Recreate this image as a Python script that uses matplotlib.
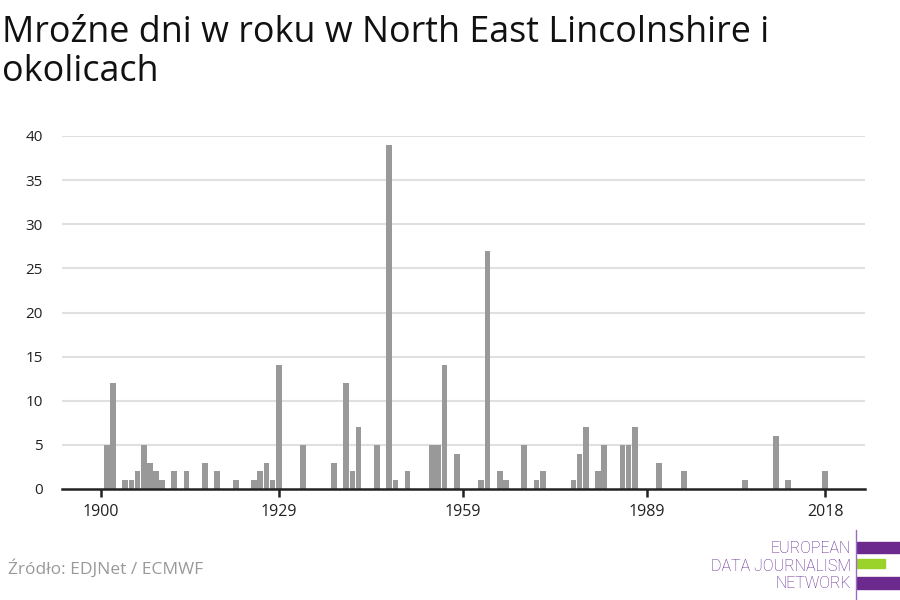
import matplotlib.pyplot as plt
from matplotlib.patches import Rectangle

plt.rcParams['font.family'] = ['Open Sans', 'DejaVu Sans']

# frost days per year (years without frost days are left out = 0)
years = [1901, 1902, 1904, 1905, 1906, 1907, 1908, 1909, 1910, 1912, 1914, 1917, 1919,
         1922, 1925, 1926, 1927, 1928, 1929, 1933, 1938, 1940, 1941, 1942, 1945, 1947,
         1948, 1950, 1954, 1955, 1956, 1958, 1962, 1963, 1965, 1966, 1969, 1971, 1972,
         1977, 1978, 1979, 1981, 1982, 1985, 1986, 1987, 1991, 1995, 2005, 2010, 2012, 2018]
frost_days = [5, 12, 1, 1, 2, 5, 3, 2, 1, 2, 2, 3, 2,
              1, 1, 2, 3, 1, 14, 5, 3, 12, 2, 7, 5, 39,
              1, 2, 5, 5, 14, 4, 1, 27, 2, 1, 5, 1, 2,
              1, 4, 7, 2, 5, 5, 5, 7, 3, 2, 1, 6, 1, 2]
xticks = [1900, 1929, 1959, 1989, 2018]
yticks = [0, 5, 10, 15, 20, 25, 30, 35, 40]

fig = plt.figure(figsize=(9, 6), dpi=100)
ax = fig.add_axes([62 / 900, 1 - 489 / 600, 803 / 900, 353 / 600])

ax.bar(years, frost_days, width=0.93, color='#999999', zorder=2)

ax.set_xlim(1893.7, 2024.5)
ax.set_ylim(0, 40)
ax.set_yticks(yticks)
ax.set_xticks(xticks)
ax.set_xticklabels([str(y) for y in xticks])
for y in yticks[1:]:
    ax.axhline(y, color='#e0e0e0', lw=1.5, zorder=1)

for s in ['top', 'right', 'left']:
    ax.spines[s].set_visible(False)
ax.spines['bottom'].set_linewidth(1.8)
ax.spines['bottom'].set_color('#222222')
ax.tick_params(axis='y', length=0, pad=14, labelsize=11, labelcolor='#222222')
ax.tick_params(axis='x', length=6, width=1.8, color='#222222', pad=5,
               labelsize=11.5, labelcolor='#222222')

fig.text(0.002, 1 - 81 / 600, 'Mroźne dni w roku w North East Lincolnshire i\nokolicach',
         fontsize=25.8, color='#111111', va='baseline', ha='left', linespacing=1.12)

fig.text(8 / 900, 1 - 574 / 600, 'Źródło: EDJNet / ECMWF', fontsize=12.5,
         color='#999999', ha='left', va='baseline')

# EDJNet logo
purple = '#6c2a8e'
fig.add_artist(plt.Line2D([856 / 900, 856 / 900], [0, 70 / 600], color='#9a6cc0', lw=1))
fig.add_artist(Rectangle((857 / 900, 1 - 553 / 600), 43 / 900, 11.5 / 600, color=purple))
fig.add_artist(Rectangle((857 / 900, 1 - 567.5 / 600), 27.5 / 900, 9 / 600, color='#9bd32a'))
fig.add_artist(Rectangle((857 / 900, 1 - 588.5 / 600), 43 / 900, 11.5 / 600, color=purple))
for txt, yb in [('EUROPEAN', 553), ('DATA JOURNALISM', 571), ('NETWORK', 588.5)]:
    fig.text(851 / 900, 1 - yb / 600, txt, fontsize=11.5, color='#5e1f90',
             ha='right', va='baseline', family=['Roboto', 'DejaVu Sans'], fontweight='light')

fig.savefig('out.png', dpi=100)
